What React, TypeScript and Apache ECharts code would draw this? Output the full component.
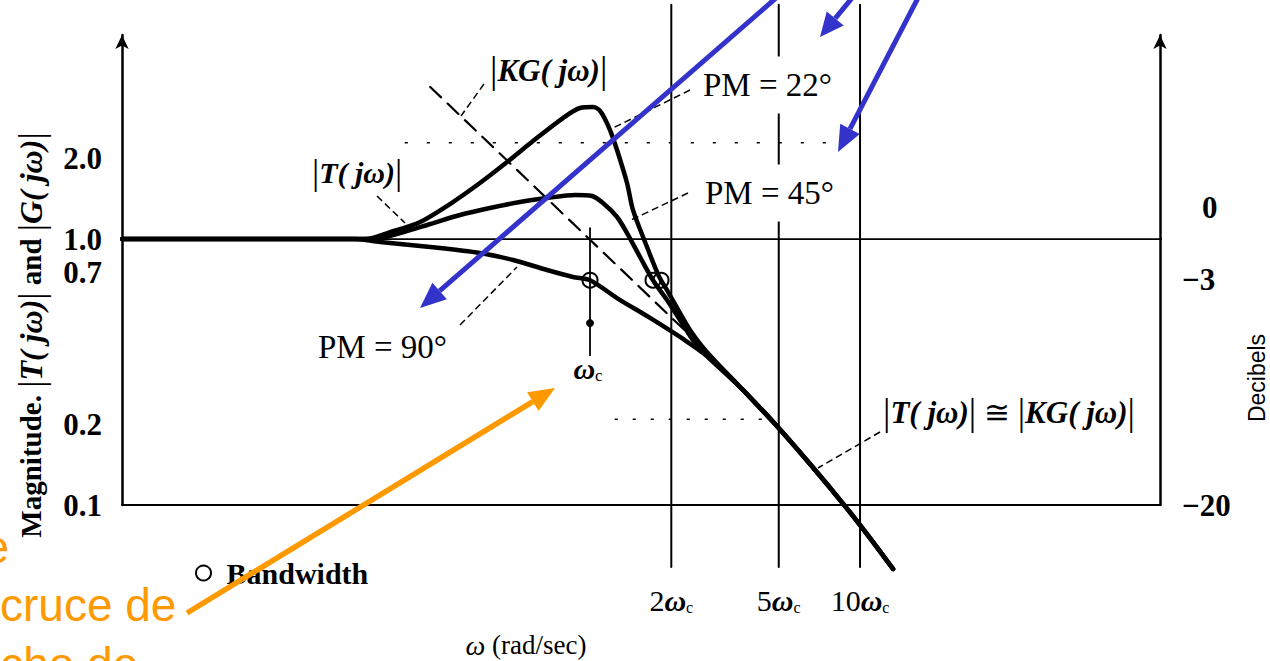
import { useEffect, useRef } from "react";
import * as echarts from "echarts";

// Closed-loop magnitude |T(jω)| for three phase margins, ω normalised to ωc.
const OMEGA_PM22 = [0.0185, 0.147, 0.182, 0.235, 0.303, 0.391, 0.493, 0.615, 0.794, 0.918, 1.026, 1.098, 1.186, 1.259, 1.371, 1.443, 1.626, 1.771, 1.832, 1.928, 2.154, 2.346, 2.667];
const MAG_PM22 = [1.0, 1.0, 1.062, 1.159, 1.354, 1.624, 1.948, 2.336, 2.85, 3.109, 3.135, 3.002, 2.569, 2.161, 1.624, 1.285, 0.933, 0.751, 0.7, 0.643, 0.527, 0.455, 0.383];

const OMEGA_PM45 = [0.0185, 0.16, 0.198, 0.256, 0.33, 0.426, 0.55, 0.693, 0.88, 1.017, 1.117, 1.259, 1.371, 1.532, 1.711, 1.928, 2.154, 2.407, 2.713];
const MAG_PM45 = [1.0, 1.0, 1.053, 1.139, 1.231, 1.308, 1.378, 1.426, 1.464, 1.451, 1.366, 1.21, 1.053, 0.856, 0.7, 0.59, 0.496, 0.417, 0.363];

const OMEGA_PM90 = [0.0185, 0.135, 0.167, 0.256, 0.391, 0.519, 0.693, 0.865, 1.0, 1.259, 1.668, 2.211, 2.713];
const MAG_PM90 = [1.0, 1.0, 0.974, 0.933, 0.886, 0.834, 0.765, 0.72, 0.7, 0.6, 0.505, 0.421, 0.363];

// High-frequency region where every |T(jω)| follows |KG(jω)|
const OMEGA_TAIL = [3.594, 4.844, 6.528, 8.799, 10.89, 13.25];
const MAG_TAIL = [0.2777, 0.2016, 0.1426, 0.0991, 0.0751, 0.0575];

// Open-loop |KG(jω)| asymptote near crossover
const OMEGA_KG = [0.256, 2.49];
const MAG_KG = [3.73, 0.41];

// -3 dB bandwidth points (PM = 90°, 45°, 22°)
const BANDWIDTH_OMEGA = [1.0, 1.711, 1.832];
const BANDWIDTH_MAG = [0.7, 0.7, 0.7];

// Frequency guides and axis ticks
const GUIDE_OMEGAS = [2, 5, 10];
const GUIDE_PREFIX = ["2", "5", "10"];
const MAG_TICKS = [2.0, 1.0, 0.7, 0.2, 0.1];
const MAG_TICK_LABELS = ["2.0", "1.0", "0.7", "0.2", "0.1"];
const DB_TICKS = [1.0, 0.707, 0.1];
const DB_TICK_LABELS = ["0", "−3", "−20"];

// Axis ranges (ω/ωc and magnitude), drawn on log-log scales
const X_RANGE = [0.01848, 129.1];
const Y_RANGE = [0.1, 5.85];

// Extents of the reference lines
const GUIDE_SPAN = [0.0585, 7.6];
const UNITY_END = 330;
const PEAK_GUIDE = { omega: [0.207, 8.22], mag: 2.3 };
const LOW_GUIDE = { omega: [1.24, 4.45], mag: 0.21 };
const WC_MARKER = { omega: 1.0, span: [1.1, 0.366], dot: 0.483 };

const SERIF = '"Liberation Serif", "Times New Roman", serif';
const SANS = '"Liberation Sans", Arial, sans-serif';
const BLUE = "#3333cc";
const ORANGE = "#ff9900";

const lg = Math.log10;
const toPts = (xs: number[], ys: number[]) => xs.map((x, i) => [lg(x), lg(ys[i])]);

function lineSeries(name: string, xs: number[], ys: number[], width: number, type: any, z: number, smooth: number | boolean = false) {
  return {
    type: "line",
    name,
    data: toPts(xs, ys),
    showSymbol: false,
    symbol: "none",
    clip: false,
    silent: true,
    smooth,
    z,
    lineStyle: { color: "#000", width, type, cap: "round", join: "round" },
  };
}

function arrow(x1: number, y1: number, x2: number, y2: number, color: string, width: number, headLen: number, headW: number) {
  const a = Math.atan2(y2 - y1, x2 - x1);
  const bx = x2 - headLen * Math.cos(a);
  const by = y2 - headLen * Math.sin(a);
  const nx = -Math.sin(a);
  const ny = Math.cos(a);
  return [
    { type: "line", z: 200, silent: true, shape: { x1, y1, x2: bx, y2: by }, style: { stroke: color, lineWidth: width } },
    {
      type: "polygon",
      z: 200,
      silent: true,
      shape: { points: [[x2, y2], [bx + nx * headW, by + ny * headW], [bx - nx * headW, by - ny * headW]] },
      style: { fill: color },
    },
  ];
}

function leader(x1: number, y1: number, x2: number, y2: number) {
  return { type: "line", z: 60, silent: true, shape: { x1, y1, x2, y2 }, style: { stroke: "#000", lineWidth: 1.5, lineDash: [7, 4] } };
}

const formulaRich = (size: number) => ({
  b: { fontFamily: SERIF, fontSize: size + 6, fill: "#000", fontWeight: "normal" },
  i: { fontFamily: SERIF, fontSize: size, fontStyle: "italic", fontWeight: "bold", fill: "#000" },
  r: { fontFamily: SERIF, fontSize: size, fill: "#000" },
  o: { fontFamily: SERIF, fontSize: size, fill: "#000" },
  s: { fontFamily: SERIF, fontSize: Math.round(size * 0.55), fill: "#000", padding: [14, 0, 0, 0] },
  w: { fontFamily: SERIF, fontSize: size, fontStyle: "italic", fontWeight: "bold", fill: "#000" },
});

function text(x: number, y: number, content: string, opts: any = {}) {
  return {
    type: "text",
    x,
    y,
    z: opts.z ?? 80,
    rotation: opts.rotation ?? 0,
    silent: true,
    style: {
      text: content,
      fill: opts.color ?? "#000",
      fontFamily: opts.family ?? SERIF,
      fontSize: opts.size ?? 30,
      fontStyle: opts.italic ? "italic" : "normal",
      fontWeight: opts.bold ? "bold" : "normal",
      align: opts.align ?? "left",
      verticalAlign: "middle",
      rich: opts.rich,
      backgroundColor: opts.bg,
      padding: opts.padding,
    },
  };
}

function labelFor(val: number, ticks: number[], labels: string[]) {
  let best = 0;
  ticks.forEach((t, i) => {
    if (Math.abs(lg(t) - val) < Math.abs(lg(ticks[best]) - val)) best = i;
  });
  return labels[best];
}

function buildOption() {
  const curves = [
    { name: "PM = 22°", xs: OMEGA_PM22, ys: MAG_PM22 },
    { name: "PM = 45°", xs: OMEGA_PM45, ys: MAG_PM45 },
    { name: "PM = 90°", xs: OMEGA_PM90, ys: MAG_PM90 },
  ].map((c) => lineSeries(c.name, [...c.xs, ...OMEGA_TAIL], [...c.ys, ...MAG_TAIL], 4.5, "solid", 10, 0.3));

  const guides = GUIDE_OMEGAS.map((w) => lineSeries(`${w}ωc`, [w, w], GUIDE_SPAN, 2, "solid", 3));

  const series: any[] = [
    lineSeries("unity", [X_RANGE[0], UNITY_END], [1, 1], 1.8, "solid", 3),
    lineSeries("peak guide", PEAK_GUIDE.omega, [PEAK_GUIDE.mag, PEAK_GUIDE.mag], 1.5, [2, 20], 3),
    lineSeries("low guide", LOW_GUIDE.omega, [LOW_GUIDE.mag, LOW_GUIDE.mag], 1.5, [2, 16], 3),
    ...guides,
    lineSeries("ωc", [WC_MARKER.omega, WC_MARKER.omega], WC_MARKER.span, 1.8, "solid", 4),
    lineSeries("|KG(jω)|", OMEGA_KG, MAG_KG, 2.2, [15, 9], 6),
    ...curves,
    {
      type: "scatter",
      name: "ωc marker",
      data: [[lg(WC_MARKER.omega), lg(WC_MARKER.dot)]],
      symbol: "circle",
      symbolSize: 8,
      itemStyle: { color: "#000", opacity: 1 },
      clip: false,
      silent: true,
      z: 12,
    },
    {
      type: "scatter",
      name: "Bandwidth",
      data: toPts(BANDWIDTH_OMEGA, BANDWIDTH_MAG),
      symbol: "circle",
      symbolSize: 15,
      itemStyle: { color: "rgba(255,255,255,0)", borderColor: "#000", borderWidth: 2, opacity: 1 },
      clip: false,
      silent: true,
      z: 12,
    },
  ];

  const tickRich = {
    base: { fontFamily: SERIF, fontSize: 31, fontWeight: "bold", color: "#000" },
    up: { fontFamily: SERIF, fontSize: 31, fontWeight: "bold", color: "#000", padding: [0, 0, 16, 0] },
    zero: { fontFamily: SERIF, fontSize: 31, fontWeight: "bold", color: "#000", padding: [0, 0, 64, 20] },
  };

  const elements: any[] = [
    // curve annotations
    text(490, 70, "{b||}{i|KG( jω)}{b||}", { rich: formulaRich(31) }),
    leader(484, 84, 461, 116),
    text(312, 172, "{b||}{i|T( jω)}{b||}", { rich: formulaRich(30) }),
    leader(377, 196, 405, 223),
    text(700, 85, "PM = 22°", { size: 33, bg: "#fff", padding: [12, 3] }),
    leader(690, 90, 613, 128),
    text(702, 193, "PM = 45°", { size: 33, bg: "#fff", padding: [12, 3] }),
    leader(688, 193, 631, 220),
    text(318, 347, "PM = 90°", { size: 33 }),
    leader(460, 325, 517, 267),
    text(883, 412, "{b||}{i|T( jω)}{b||}{o| ≅ }{b||}{i|KG( jω)}{b||}", { rich: formulaRich(31) }),
    leader(880, 432, 818, 468),
    text(588, 368, "{w|ω}{s|c}", { align: "center", rich: formulaRich(30) }),
    // axis titles
    text(526, 645, "{w|ω}{r| (rad/sec)}", { align: "center", rich: { ...formulaRich(27), w: { fontFamily: SERIF, fontSize: 28, fontStyle: "italic", fill: "#000" } } }),
    text(31, 335, "{r|Magnitude. }{b||}{i|T( jω)}{b||}{r| and }{b||}{i|G( jω)}{b||}", {
      rotation: Math.PI / 2,
      align: "center",
      rich: {
        r: { fontFamily: SERIF, fontSize: 29, fontWeight: "bold", fill: "#000" },
        i: { fontFamily: SERIF, fontSize: 32, fontStyle: "italic", fontWeight: "bold", fill: "#000" },
        b: { fontFamily: SERIF, fontSize: 36, fill: "#000" },
      },
    }),
    text(1257, 378, "Decibels", { rotation: Math.PI / 2, align: "center", family: SANS, size: 23 }),
    // overlay notes
    text(9, 547, "de", { align: "right", family: SANS, size: 46, color: ORANGE, z: 190 }),
    text(0, 605, "cruce de", { family: SANS, size: 46, color: ORANGE, z: 190 }),
    text(-51, 664, "ancho de", { family: SANS, size: 46, color: ORANGE, z: 190 }),
    ...arrow(187, 613, 555, 388, ORANGE, 5.5, 26, 11),
    ...arrow(776, -2, 420, 308, BLUE, 5, 26, 11),
    ...arrow(852, -2, 820, 37, BLUE, 5, 24, 11),
    ...arrow(918, -2, 838, 152, BLUE, 5, 26, 11),
  ];

  return {
    animation: false,
    backgroundColor: "#fff",
    grid: { left: 122, right: 110, top: 35, bottom: 156 },
    legend: {
      data: ["Bandwidth"],
      left: 195,
      top: 558,
      padding: 0,
      icon: "circle",
      itemWidth: 36,
      itemHeight: 15,
      itemStyle: { color: "#fff", borderColor: "#000", borderWidth: 2, opacity: 1 },
      textStyle: { fontFamily: SERIF, fontSize: 30, fontWeight: "bold", color: "#000" },
      selectedMode: false,
    },
    xAxis: {
      type: "value",
      min: lg(X_RANGE[0]),
      max: lg(X_RANGE[1]),
      axisLine: { show: true, onZero: false, lineStyle: { color: "#000", width: 2 } },
      axisTick: { show: false },
      splitLine: { show: false },
      axisLabel: {
        customValues: GUIDE_OMEGAS.map(lg),
        margin: 80,
        formatter: (v: number) => `{n|${labelFor(v, GUIDE_OMEGAS, GUIDE_PREFIX)}}{w|ω}{s|c}`,
        rich: {
          n: { fontFamily: SERIF, fontSize: 30, color: "#000" },
          w: { fontFamily: SERIF, fontSize: 30, fontStyle: "italic", fontWeight: "bold", color: "#000" },
          s: { fontFamily: SERIF, fontSize: 16, color: "#000", padding: [14, 0, 0, 0] },
        },
      },
    },
    yAxis: [
      {
        type: "value",
        position: "left",
        min: lg(Y_RANGE[0]),
        max: lg(Y_RANGE[1]),
        axisLine: { show: true, onZero: false, symbol: ["none", "arrow"], symbolSize: [10, 14], lineStyle: { color: "#000", width: 2.5 } },
        axisTick: { show: false },
        splitLine: { show: false },
        axisLabel: {
          customValues: MAG_TICKS.map(lg),
          margin: 20,
          formatter: (v: number) => {
            const s = labelFor(v, MAG_TICKS, MAG_TICK_LABELS);
            return s === "0.7" ? `{up|${s}}` : `{base|${s}}`;
          },
          rich: tickRich,
        },
      },
      {
        type: "value",
        position: "right",
        min: lg(Y_RANGE[0]),
        max: lg(Y_RANGE[1]),
        axisLine: { show: true, onZero: false, symbol: ["none", "arrow"], symbolSize: [10, 14], lineStyle: { color: "#000", width: 2.5 } },
        axisTick: { show: false },
        splitLine: { show: false },
        axisLabel: {
          customValues: DB_TICKS.map(lg),
          margin: 22,
          formatter: (v: number) => {
            const s = labelFor(v, DB_TICKS, DB_TICK_LABELS);
            return s === "0" ? `{zero|${s}}` : `{base|${s}}`;
          },
          rich: tickRich,
        },
      },
    ],
    series,
    graphic: { elements },
  };
}

export default function App() {
  const ref = useRef<HTMLDivElement>(null);
  useEffect(() => {
    if (!ref.current) return;
    const chart = echarts.init(ref.current, null, { renderer: "svg" });
    chart.setOption(buildOption() as any);
    return () => chart.dispose();
  }, []);
  return (
    <div
      ref={ref}
      style={{ position: "fixed", left: 0, top: 0, width: 1270, height: 661, background: "#fff" }}
    />
  );
}
